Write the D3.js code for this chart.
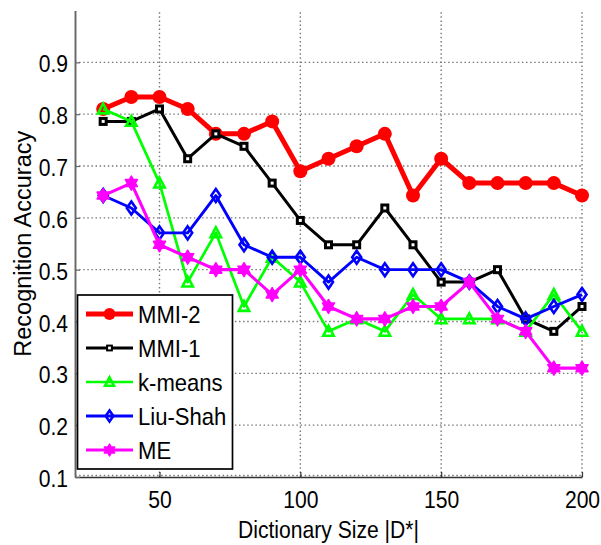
<!DOCTYPE html>
<html>
<head>
<meta charset="utf-8">
<script src="https://cdn.jsdelivr.net/npm/d3@7"></script>
<style>
  html, body { margin: 0; padding: 0; background: #fff; }
  svg { display: block; }
  text { font-family: "Liberation Sans", Arial, sans-serif; fill: #000; }
</style>
</head>
<body>
<svg id="chart" width="601" height="545"></svg>
<script>
// ---------------- data ----------------
const dictSizes = [30, 40, 50, 60, 70, 80, 90, 100, 110, 120, 130, 140, 150, 160, 170, 180, 190, 200];
const mmi2    = [0.810, 0.833, 0.833, 0.810, 0.762, 0.762, 0.786, 0.690, 0.714, 0.738, 0.762, 0.643, 0.714, 0.667, 0.667, 0.667, 0.667, 0.643];
const mmi1    = [0.786, 0.786, 0.810, 0.714, 0.762, 0.738, 0.667, 0.595, 0.548, 0.548, 0.619, 0.548, 0.476, 0.476, 0.500, 0.405, 0.381, 0.429];
const kmeans  = [0.810, 0.786, 0.667, 0.476, 0.571, 0.429, 0.524, 0.476, 0.381, 0.405, 0.381, 0.452, 0.405, 0.405, 0.405, 0.381, 0.452, 0.381];
const liuShah = [0.643, 0.619, 0.571, 0.571, 0.643, 0.548, 0.524, 0.524, 0.476, 0.524, 0.500, 0.500, 0.500, 0.476, 0.429, 0.405, 0.429, 0.452];
const me      = [0.643, 0.667, 0.548, 0.524, 0.500, 0.500, 0.452, 0.500, 0.429, 0.405, 0.405, 0.429, 0.429, 0.476, 0.405, 0.381, 0.310, 0.310];
const seriesNames = ["MMI-2", "MMI-1", "k-means", "Liu-Shah", "ME"];
const xTickValues = [50, 100, 150, 200];
const yTickValues = [0.1, 0.2, 0.3, 0.4, 0.5, 0.6, 0.7, 0.8, 0.9];
const xTitle = "Dictionary Size |D*|";
const yTitle = "Recognition Accuracy";

// ---------------- setup ----------------
const svg = d3.select("#chart");
const x = d3.scaleLinear().domain([20, 200]).range([75, 582]);
const y = d3.scaleLinear().domain([0.1, 1.0]).range([477, 10.5]);
const SX = 0.88; // horizontal squeeze of text seen in the reference

const styles = [
  { color: "#ff0000", width: 5,   marker: "circle" },
  { color: "#000000", width: 3,   marker: "square" },
  { color: "#00ff00", width: 2.7, marker: "triangle" },
  { color: "#0000ff", width: 2.9, marker: "diamond" },
  { color: "#ff00ff", width: 3.1, marker: "hexagram" }
];
const seriesValues = [mmi2, mmi1, kmeans, liuShah, me];

// ---------------- grid ----------------
const grid = svg.append("g").attr("class", "grid");
grid.selectAll("line.h").data(yTickValues).join("line")
  .attr("x1", x(20)).attr("x2", x(200))
  .attr("y1", d => y(d) - (d === 0.1 ? 1.5 : 0)).attr("y2", d => y(d) - (d === 0.1 ? 1.5 : 0))
  .attr("stroke", "#777").attr("stroke-width", 1.4).attr("stroke-dasharray", "1.5,2.6");
grid.selectAll("line.v").data(xTickValues).join("line")
  .attr("x1", d => x(d)).attr("x2", d => x(d))
  .attr("y1", y(0.1)).attr("y2", y(1.0))
  .attr("stroke", "#777").attr("stroke-width", 1.4).attr("stroke-dasharray", "1.5,2.6");

// ---------------- axes ----------------
const xAxis = d3.axisBottom(x).tickValues(xTickValues).tickFormat(d3.format("d"))
  .tickSizeInner(-5).tickSizeOuter(0).tickPadding(10);
const gx = svg.append("g").attr("transform", `translate(0,${y(0.1)})`).call(xAxis);
gx.select(".domain").attr("stroke", "#333").attr("stroke-width", 1.7);
gx.selectAll(".tick line").attr("stroke", "#333").attr("stroke-width", 1.2);
gx.selectAll(".tick text")
  .attr("font-size", 24).attr("fill", "#000")
  .attr("y", 0).attr("dy", 0)
  .attr("transform", `translate(0,31) scale(${SX},1)`);

const yAxis = d3.axisLeft(y).tickValues(yTickValues).tickFormat(d3.format(".1f"))
  .tickSizeInner(-5).tickSizeOuter(0).tickPadding(7);
const gy = svg.append("g").attr("transform", `translate(${x(20)},0)`).call(yAxis);
gy.select(".domain").attr("stroke", "#666").attr("stroke-width", 1.9);
gy.selectAll(".tick line").attr("stroke", "#666").attr("stroke-width", 1.2);
gy.selectAll(".tick text")
  .attr("font-size", 24).attr("fill", "#000")
  .attr("x", 0).attr("dy", "0.36em")
  .attr("transform", `translate(-7,1) scale(${SX},1)`);
svg.selectAll(".domain").attr("fill", "none");

// axis titles
svg.append("text").text(xTitle)
  .attr("text-anchor", "middle").attr("font-size", 24)
  .attr("transform", `translate(${(x(20) + x(200)) / 2},538) scale(${SX},1)`);
svg.append("text").text(yTitle)
  .attr("text-anchor", "middle").attr("font-size", 23.5)
  .attr("transform", `translate(31,${(y(0.1) + y(1.0)) / 2}) rotate(-90)`);

// ---------------- markers ----------------
function hexagramPath(R) {
  const pts = [];
  for (let k = 0; k < 12; k++) {
    const a = -Math.PI / 2 + k * Math.PI / 6;
    const r = k % 2 === 0 ? R : R / Math.sqrt(3);
    pts.push([r * Math.cos(a), r * Math.sin(a)]);
  }
  return "M" + pts.map(p => p.join(",")).join("L") + "Z";
}
function drawMarker(g, type, color, big) {
  const s = big ? 1 : 0.85;
  if (type === "circle") {
    g.append("circle").attr("r", 7 * s).attr("fill", color);
  } else if (type === "square") {
    const h = big ? 3 : 2.4;
    g.append("rect").attr("x", -h).attr("y", -h).attr("width", 2 * h).attr("height", 2 * h)
      .attr("fill", "#fff").attr("stroke", color).attr("stroke-width", big ? 3 : 2);
  } else if (type === "triangle") {
    const w = 5.2 * s, h = 5.5 * s;
    g.append("path").attr("d", `M0,${-h}L${w},${h * 0.8}L${-w},${h * 0.8}Z`)
      .attr("fill", "none").attr("stroke", color).attr("stroke-width", 2.6);
  } else if (type === "diamond") {
    const w = 4.5 * s, h = 6.5 * s;
    g.append("path").attr("d", `M0,${-h}L${w},0L0,${h}L${-w},0Z`)
      .attr("fill", "none").attr("stroke", color).attr("stroke-width", 2.6);
  } else if (type === "hexagram") {
    g.append("path").attr("d", hexagramPath(7 * s))
      .attr("fill", color).attr("stroke", color).attr("stroke-width", 1.5).attr("stroke-linejoin", "round");
  }
}

// ---------------- series ----------------
const line = d3.line().x(d => x(d[0])).y(d => y(d[1]));
seriesValues.forEach((vals, i) => {
  const st = styles[i];
  const pts = dictSizes.map((d, j) => [d, vals[j]]);
  const g = svg.append("g").attr("class", "series");
  g.append("path").datum(pts).attr("d", line)
    .attr("fill", "none").attr("stroke", st.color).attr("stroke-width", st.width)
    .attr("stroke-linejoin", "round");
  g.selectAll("g.m").data(pts).join("g")
    .attr("transform", d => `translate(${x(d[0])},${y(d[1])})`)
    .each(function () { drawMarker(d3.select(this), st.marker, st.color, true); });
});

// ---------------- legend ----------------
const lg = svg.append("g").attr("class", "legend");
lg.append("rect").attr("x", 77.5).attr("y", 295).attr("width", 155).attr("height", 174)
  .attr("fill", "#fff").attr("stroke", "#000").attr("stroke-width", 1.7);
seriesNames.forEach((name, i) => {
  const st = styles[i];
  const cy = 314 + i * 34;
  lg.append("line").attr("x1", 86).attr("x2", 133).attr("y1", cy).attr("y2", cy)
    .attr("stroke", st.color).attr("stroke-width", st.width);
  const m = lg.append("g").attr("transform", `translate(109.5,${cy})`);
  drawMarker(m, st.marker, st.color, false);
  lg.append("text").text(name).attr("font-size", 24)
    .attr("dy", "0.36em")
    .attr("transform", `translate(138,${cy}) scale(0.92,1)`);
});
</script>
</body>
</html>
